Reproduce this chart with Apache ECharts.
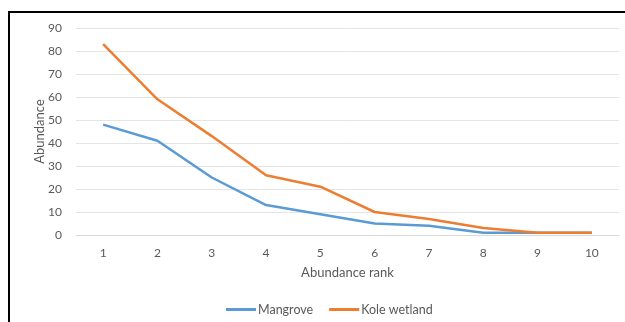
<!DOCTYPE html>
<html>
<head>
<meta charset="utf-8">
<script src="https://cdn.jsdelivr.net/npm/echarts@6/dist/echarts.min.js"></script>
<style>
  html, body { margin: 0; padding: 0; background: #fff; }
  #frame {
    position: absolute; left: 8px; top: 11px; width: 617px; height: 311px;
    border-top: 2px solid #000; border-left: 2px solid #000; box-sizing: border-box;
  }
  #chart { position: absolute; left: 0; top: 0; width: 625px; height: 322px; }
</style>
</head>
<body>
<div id="frame"></div>
<div id="chart"></div>
<script>
// Rank-abundance data for two habitats
const ranks = ['1', '2', '3', '4', '5', '6', '7', '8', '9', '10'];
const mangrove = [48, 41, 25, 13, 9, 5, 4, 1, 1, 1];
const koleWetland = [83, 59, 43, 26, 21, 10, 7, 3, 1, 1];

const textColor = '#595959';
const fontFamily = 'Lato, "Open Sans", sans-serif';

const chart = echarts.init(document.getElementById('chart'));
chart.setOption({
  animation: false,
  textStyle: { fontFamily: fontFamily },
  grid: { left: 76, right: 6, top: 28, bottom: 87, containLabel: false },
  legend: {
    top: 298,
    left: 221,
    itemWidth: 30,
    itemHeight: 3,
    itemGap: 16,
    icon: 'rect',
    textStyle: { color: textColor, fontSize: 12.5, fontFamily: fontFamily, padding: [0, 0, 0, -3] },
    data: ['Mangrove', 'Kole wetland']
  },
  xAxis: {
    type: 'category',
    data: ranks,
    boundaryGap: true,
    name: 'Abundance rank',
    nameLocation: 'middle',
    nameGap: 31,
    nameMoveOverlap: false,
    nameTextStyle: { color: textColor, fontSize: 13, fontFamily: fontFamily },
    axisLine: { lineStyle: { color: '#d9d9d9' } },
    axisTick: { show: false },
    axisLabel: { color: textColor, fontSize: 12, margin: 12 }
  },
  yAxis: {
    type: 'value',
    min: 0,
    max: 90,
    interval: 10,
    name: 'Abundance',
    nameLocation: 'middle',
    nameGap: 30,
    nameMoveOverlap: false,
    nameTextStyle: { color: textColor, fontSize: 13, fontFamily: fontFamily },
    axisLine: { show: false },
    axisTick: { show: false },
    axisLabel: { color: textColor, fontSize: 12, margin: 14 },
    splitLine: { lineStyle: { color: '#e4e4e4', width: 1 } }
  },
  series: [
    {
      name: 'Mangrove',
      type: 'line',
      data: mangrove,
      symbol: 'none',
      lineStyle: { color: '#5b9bd5', width: 2.5 },
      itemStyle: { color: '#5b9bd5' }
    },
    {
      name: 'Kole wetland',
      type: 'line',
      data: koleWetland,
      symbol: 'none',
      lineStyle: { color: '#ed7d31', width: 2.5 },
      itemStyle: { color: '#ed7d31' }
    }
  ]
});
</script>
</body>
</html>
